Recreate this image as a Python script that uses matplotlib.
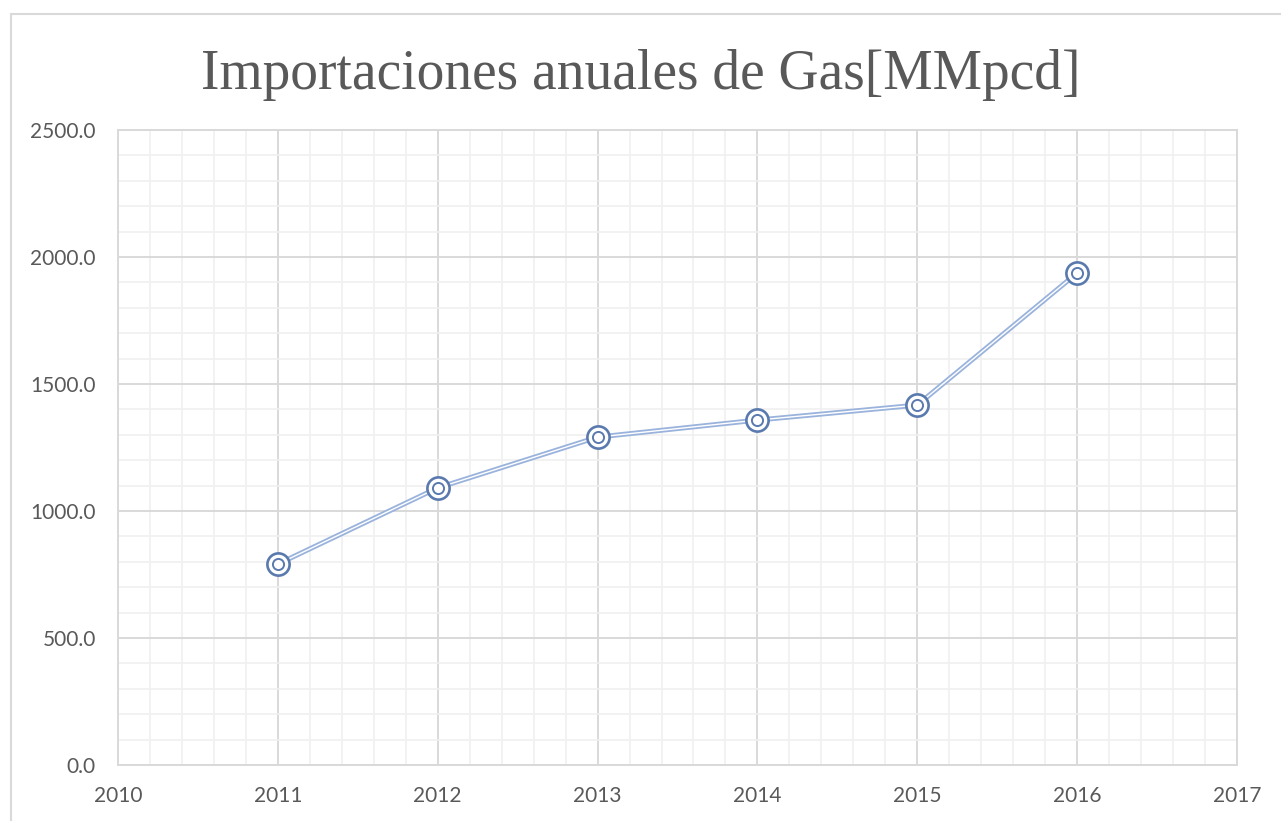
import matplotlib.pyplot as plt
from matplotlib.patches import Rectangle
from matplotlib.ticker import MultipleLocator, FormatStrFormatter

years = [2011, 2012, 2013, 2014, 2015, 2016]
imports = [791, 1091, 1291, 1358, 1417, 1937]

LINE_COLOR = '#9ab3dc'
MARKER_COLOR = '#5a7aae'
TEXT_COLOR = '#595959'

fig = plt.figure(figsize=(12.81, 8.21), dpi=100)
ax = fig.add_axes([118 / 1281, 1 - 765 / 821, (1237 - 118) / 1281, (765 - 130) / 821])

# chart area border (cropped at right/bottom in the original)
fig.patches.append(Rectangle((11 / 1281, -0.1), 1.2, 1 - 14 / 821 + 0.1,
                             transform=fig.transFigure, fill=False,
                             edgecolor='#d9d9d9', linewidth=1.5))

# double (compound) line: thick light blue with thin white core
ax.plot(years, imports, color=LINE_COLOR, linewidth=3.6, zorder=3, solid_capstyle='round')
ax.plot(years, imports, color='white', linewidth=1.0, zorder=4, solid_capstyle='round')

# double-circle markers
ax.plot(years, imports, linestyle='none', marker='o', markersize=16,
        markerfacecolor='white', markeredgecolor=MARKER_COLOR, markeredgewidth=1.9, zorder=5)
ax.plot(years, imports, linestyle='none', marker='o', markersize=8,
        markerfacecolor='none', markeredgecolor=MARKER_COLOR, markeredgewidth=1.4, zorder=6)

ax.set_xlim(2010, 2017)
ax.set_ylim(0, 2500)
ax.xaxis.set_major_locator(MultipleLocator(1))
ax.xaxis.set_minor_locator(MultipleLocator(0.2))
ax.yaxis.set_major_locator(MultipleLocator(500))
ax.yaxis.set_minor_locator(MultipleLocator(100))
ax.yaxis.set_major_formatter(FormatStrFormatter('%.1f'))
ax.xaxis.set_major_formatter(FormatStrFormatter('%d'))

ax.grid(which='major', color='#d9d9d9', linewidth=1.4)
ax.grid(which='minor', color='#f0f0f0', linewidth=1.2)
ax.set_axisbelow(True)
for s in ax.spines.values():
    s.set_color('#d9d9d9')
    s.set_linewidth(1.4)

ax.tick_params(which='both', length=0, colors=TEXT_COLOR, labelsize=15)
ax.tick_params(axis='x', pad=15)
ax.tick_params(axis='y', pad=16)
for lab in ax.get_xticklabels() + ax.get_yticklabels():
    lab.set_fontfamily(['Lato', 'DejaVu Sans'])

fig.text(0.5, 1 - 75 / 821, 'Importaciones anuales de Gas[MMpcd]', ha='center', va='center',
         fontsize=40, color=TEXT_COLOR, family=['Liberation Serif', 'DejaVu Serif'])

fig.savefig('out.png', dpi=100)
